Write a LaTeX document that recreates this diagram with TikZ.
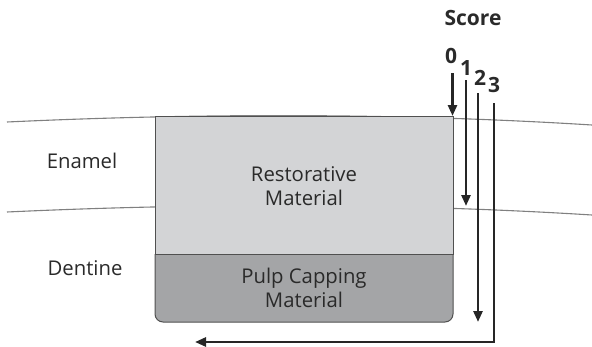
\documentclass[tikz,border=0pt]{standalone}
\usepackage{fontspec}
\setmainfont{Open Sans}
\usetikzlibrary{arrows.meta}
\definecolor{restfill}{HTML}{D3D4D6}
\definecolor{pulpfill}{HTML}{A4A5A7}
\definecolor{edgegray}{HTML}{505050}
\definecolor{layergray}{HTML}{808080}
\definecolor{inkgray}{HTML}{2A2A2A}
\tikzset{
  layerline/.style={draw=layergray, line width=1.1pt},
  boxline/.style={draw=edgegray, line width=1pt},
  label/.style={text=inkgray, font=\fontsize{20.3}{24.5}\selectfont, align=center, inner sep=0pt},
  scorelabel/.style={text=inkgray, font=\fontsize{21}{24}\selectfont\bfseries, inner sep=0pt},
  probe/.style={draw=black!85, line width=2.6pt, -{Triangle[length=11pt,width=9pt]}}
}
\begin{document}
\begin{tikzpicture}[x=1pt,y=-1pt]
\useasboundingbox (0,0) rectangle (592,346);

% enamel surface and enamel-dentine junction
\draw[layerline] (7,122) .. controls (200,113) and (400,113) .. (592,125);
\draw[layerline] (7,212) .. controls (200,203) and (400,203) .. (592,215);

% cavity: pulp capping layer and restoration
\filldraw[boxline, fill=pulpfill, rounded corners=8pt] (155,254) -- (155,322) -- (453,322) -- (453,254);
\filldraw[boxline, fill=restfill] (155,116) rectangle (453,254);

% labels
\node[label] (enamel) at (82,161) {Enamel};
\node[label] (dentine) at (85,268) {Dentine};
\node[label] (rest) at (304,186) {Restorative\\Material};
\node[label] (pulp) at (304,288) {Pulp Capping\\Material};
\node[scorelabel] (score) at (473,18) {Score};
\node[scorelabel] (s0) at (451,56) {0};
\node[scorelabel] (s1) at (466,68) {1};
\node[scorelabel] (s2) at (480,78) {2};
\node[scorelabel] (s3) at (494,85) {3};

% penetration depth arrows
\coordinate (e0) at (452.5,116);
\coordinate (e1) at (466,206);
\coordinate (e2) at (478,322);
\coordinate (c3) at (494,342);
\coordinate (e3) at (195,342);
\draw[probe] (452.5,73) -- (e0);
\draw[probe] (466,80) -- (e1);
\draw[probe] (478,93) -- (e2);
\draw[probe] (494,103) -- (c3) -- (e3);
\end{tikzpicture}
\end{document}
